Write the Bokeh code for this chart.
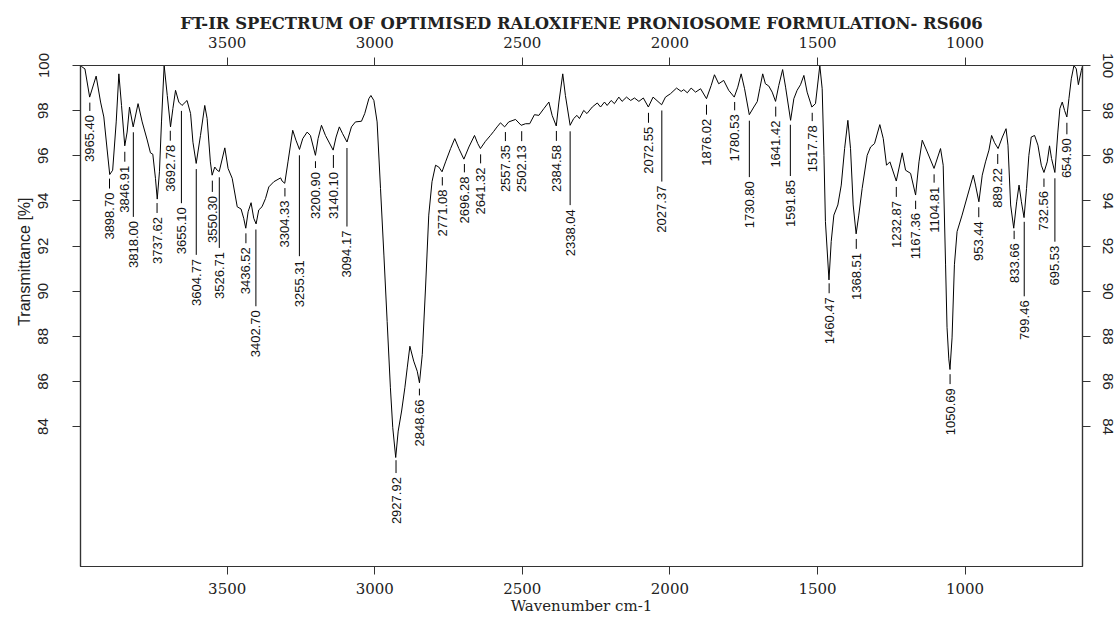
import numpy as np
from bokeh.plotting import figure
from bokeh.models import Range1d, LinearAxis, FixedTicker, ColumnDataSource, Title
from bokeh.embed import file_html
from bokeh.resources import INLINE
from bokeh.core.properties import value

# ---------------- data ----------------
wavenumber = [
    3996, 3993, 3982, 3966, 3944, 3929, 3918, 3907, 3898, 3888, 3876, 3867, 3858, 3847, 3839, 3831,
    3818.5, 3802, 3788, 3771, 3760, 3752, 3743, 3737, 3729.5, 3722.6, 3713.6, 3703, 3692, 3684, 3675,
    3664, 3653, 3636, 3624, 3616, 3605, 3590.5, 3576, 3568, 3557, 3551, 3542, 3534, 3527, 3508, 3497,
    3483, 3466, 3453, 3444, 3437, 3429, 3419, 3410, 3402, 3393, 3382, 3370, 3359, 3342, 3319, 3314,
    3305, 3294, 3278, 3267, 3255, 3244, 3229, 3218, 3201, 3192, 3180.5, 3167, 3141, 3131, 3120, 3109,
    3094, 3079, 3065.5, 3045, 3034, 3020, 3013, 3003, 2992, 2980.5, 2969, 2958, 2947, 2939, 2929,
    2920.6, 2909, 2898, 2890, 2881, 2868, 2856, 2848.5, 2839, 2828, 2817, 2806, 2794, 2783, 2772,
    2760, 2743, 2729, 2715, 2698, 2681, 2662, 2651, 2642, 2625, 2608, 2597, 2585.5, 2574, 2560, 2546,
    2523, 2504, 2489, 2475, 2459, 2444, 2427, 2410, 2399, 2385, 2376, 2363, 2354, 2338, 2326, 2315,
    2306.5, 2292, 2281, 2263, 2246, 2235, 2221.6, 2212.6, 2199, 2188, 2173, 2162, 2147, 2133, 2120,
    2105, 2090, 2073, 2057, 2028, 2015, 1998, 1977.5, 1961.6, 1953, 1941, 1928, 1913, 1896, 1876,
    1860, 1849, 1834.6, 1817.7, 1800.7, 1782, 1770, 1758.5, 1747, 1731, 1715.6, 1704, 1695.6, 1685.5,
    1676.4, 1665, 1653.4, 1642, 1631, 1618, 1608, 1591, 1580, 1569, 1557.4, 1546, 1535, 1519, 1506.7,
    1492, 1484, 1478, 1473, 1461, 1453.4, 1444.4, 1431, 1419.4, 1408, 1397, 1388, 1379, 1369, 1360,
    1348.6, 1331.6, 1320, 1306.7, 1288.7, 1277, 1266, 1254.6, 1233, 1212.8, 1201.5, 1184.5, 1167.5,
    1156, 1145, 1128, 1105, 1083, 1074, 1066, 1061, 1055, 1051, 1044, 1036, 1027, 1010, 991, 972,
    964.5, 953, 941.7, 930.5, 919, 910, 900, 888, 873.4, 861, 854.5, 845.5, 835, 825, 817, 809, 800,
    791.6, 783.7, 775.6, 764.4, 753, 741.6, 732.6, 721.5, 713.7, 706.9, 695.6, 685.5, 678.7, 670.6,
    662.8, 655, 648, 640, 631, 623, 616, 606, 601,
]
transmittance = [
    100.0, 99.95, 99.85, 98.6, 99.53, 98.38, 97.72, 96.3, 95.17, 95.36, 97.5, 99.63, 98.23, 96.44, 97.05, 98.16,
    97.28, 98.31, 97.5, 96.7, 96.13, 96.07, 95.0, 94.08, 95.29, 97.5, 100.0, 98.67, 97.28, 98.09, 98.9,
    98.38, 98.23, 98.45, 97.87, 96.6, 95.66, 96.9, 98.23, 97.65, 95.73, 95.14, 95.5, 95.36, 95.3, 96.35, 95.44,
    95.0, 93.74, 93.64, 93.23, 92.79, 93.52, 93.92, 93.23, 92.98, 93.6, 93.74, 94.11, 94.62, 94.85, 95.02, 94.88,
    94.78, 95.73, 97.13, 96.69, 96.28, 96.76, 97.05, 96.9, 96.02, 96.76, 97.35, 96.9, 96.25, 96.83, 97.28, 96.98,
    96.61, 97.28, 97.5, 97.53, 97.87, 98.53, 98.67, 98.45, 97.5, 94.55, 91.6, 88.66, 85.72, 83.95, 82.63,
    83.8, 84.69, 85.72, 86.6, 87.56, 86.9, 86.45, 85.94, 87.19, 90.14, 93.37, 94.85, 95.58, 95.5, 95.29,
    95.73, 96.32, 96.76, 96.32, 95.85, 96.39, 96.9, 96.54, 96.32, 96.64, 96.9, 97.08, 97.28, 97.46, 97.28, 97.5,
    97.61, 97.35, 97.42, 97.42, 97.82, 97.79, 98.09, 98.38, 97.79, 97.32, 98.38, 99.63, 98.67, 97.35, 97.65, 97.79,
    97.65, 98.01, 97.87, 98.16, 98.34, 98.16, 98.38, 98.23, 98.45, 98.31, 98.6, 98.41, 98.6, 98.45, 98.56,
    98.41, 98.56, 98.16, 98.6, 98.26, 98.6, 98.75, 99.0, 98.85, 98.93, 98.79, 99.0, 98.82, 98.97, 98.53,
    99.12, 99.59, 99.19, 99.34, 98.9, 98.6, 99.04, 99.63, 98.97, 97.82, 98.16, 98.4, 98.97, 99.63,
    99.19, 99.09, 98.82, 98.41, 99.12, 99.82, 99.04, 97.57, 98.53, 98.9, 99.15, 99.56, 98.82, 98.16, 98.31,
    100.0, 98.97, 96.02, 93.08, 90.5, 92.2, 93.37, 93.82, 94.7, 96.32, 97.57, 96.32, 93.82, 92.54, 93.37,
    94.55, 96.02, 96.39, 96.54, 97.38, 96.76, 95.58, 95.73, 94.88, 96.13, 95.36, 95.22, 94.26,
    95.73, 96.69, 96.17, 95.44, 96.32, 95.58, 91.2, 88.4, 87.0, 86.53, 87.93, 91.17, 92.64, 93.37, 94.26, 95.14,
    94.7, 93.96, 95.14, 95.73, 96.25, 96.9, 96.58, 96.32, 96.83, 97.2, 96.47, 93.82, 92.79, 93.96, 94.7, 93.96, 93.26,
    94.55, 96.02, 96.83, 96.9, 96.47, 95.58, 95.26, 95.73, 96.44, 95.88, 95.26, 97.05, 98.09, 98.38,
    98.01, 97.72, 98.53, 99.41, 100.0, 99.85, 99.15, 99.78, 100.0,
]

peak_labels = [
    "3965.40", "3898.70", "3846.91", "3818.00", "3737.62", "3692.78", "3655.10", "3604.77",
    "3550.30", "3526.71", "3436.52", "3402.70", "3304.33", "3255.31", "3200.90", "3140.10",
    "3094.17", "2927.92", "2848.66", "2771.08", "2696.28", "2641.32", "2557.35", "2502.13",
    "2384.58", "2338.04", "2072.55", "2027.37", "1876.02", "1780.53", "1730.80", "1641.42",
    "1591.85", "1517.78", "1460.47", "1368.51", "1232.87", "1167.36", "1104.81", "1050.69",
    "953.44", "889.22", "833.66", "799.46", "732.56", "695.53", "654.90",
]
# leader-line length below each peak, in % transmittance
peak_leader = [
    0.37, 0.44, 0.44, 3.75, 0.44, 0.44, 4.09, 3.8,
    0.5, 3.13, 0.44, 3.4, 0.37, 4.47, 0.3, 0.57,
    3.48, 0.57, 0.3, 0.37, 0.37, 0.4, 0.4, 0.44,
    0.44, 3.27, 0.44, 3.15, 0.44, 0.37, 2.5, 0.44,
    2.27, 0.37, 0.44, 0.44, 0.44, 0.37, 0.37, 0.44,
    0.44, 0.44, 0.37, 3.3, 0.37, 2.81, 0.51,
]

x_ticks = [3500, 3000, 2500, 2000, 1500, 1000]
y_ticks = [84, 86, 88, 90, 92, 94, 96, 98, 100]

title_text = "FT-IR SPECTRUM OF OPTIMISED RALOXIFENE PRONIOSOME FORMULATION- RS606"
x_title = "Wavenumber cm-1"
y_title = "Transmittance [%]"

# ---------------- derived label geometry ----------------
cw = np.array(wavenumber, dtype=float)
ct = np.array(transmittance, dtype=float)
order = np.argsort(cw)
peak_wn = np.array([float(s) for s in peak_labels])
peak_T = np.interp(peak_wn, cw[order], ct[order])
gap, tgap = 0.27, 0.18
lead_top = peak_T - gap
lead_bot = lead_top - np.array(peak_leader)
text_y = lead_bot - tgap

# ---------------- figure ----------------
p = figure(
    width=1120, height=617,
    x_range=Range1d(3997, 602), y_range=Range1d(77.8, 100),
    output_backend="svg", toolbar_location=None,
    min_border_left=80, min_border_right=38, min_border_top=65, min_border_bottom=50,
    background_fill_color="white", border_fill_color="white",
)
p.grid.visible = False
p.outline_line_color = "#333333"
p.outline_line_width = 1.2

p.title.text = title_text
p.title.align = "center"
p.title.text_font = "DejaVu Serif"
p.title.text_font_style = "bold"
p.title.text_font_size = "16.4px"
p.title.text_color = "#222222"
p.title.standoff = 2

bottom_axis = p.below[0]
left_axis = p.left[0]
bottom_axis.ticker = FixedTicker(ticks=x_ticks)
left_axis.ticker = FixedTicker(ticks=y_ticks)
bottom_axis.axis_label = x_title

top_axis = LinearAxis(ticker=FixedTicker(ticks=x_ticks))
right_axis = LinearAxis(ticker=FixedTicker(ticks=y_ticks))
p.add_layout(top_axis, "above")
p.add_layout(right_axis, "right")

for ax in [bottom_axis, top_axis]:
    ax.major_label_text_font = "DejaVu Serif"
    ax.major_label_text_font_size = "15px"
for ax in [left_axis, right_axis]:
    ax.major_label_text_font = "Liberation Sans"
    ax.major_label_text_font_size = "15px"
    ax.major_label_orientation = "vertical"

for ax in [bottom_axis, top_axis, left_axis, right_axis]:
    ax.major_tick_out = 8
    ax.major_tick_in = 0
    ax.minor_tick_out = 0
    ax.minor_tick_in = 0
    ax.axis_line_color = "#333333"
    ax.axis_line_width = 1.2
    ax.major_tick_line_color = "#333333"
    ax.major_label_text_color = "#222222"

left_axis.major_label_standoff = 24
right_axis.major_label_standoff = 12
top_axis.major_label_standoff = 10

bottom_axis.major_label_standoff = 8
bottom_axis.axis_label_standoff = 0
bottom_axis.axis_label_text_font = "DejaVu Serif"
bottom_axis.axis_label_text_font_size = "15px"
bottom_axis.axis_label_text_font_style = "normal"
bottom_axis.axis_label_text_color = "#222222"

# y-axis title in the left panel, its end placed ~132 px below the frame top as in the original
y_title_obj = Title(
    text=y_title, align="right", offset=132, standoff=4, vertical_align="middle",
    text_font="Liberation Sans", text_font_size="16px", text_font_style="normal",
    text_color="#222222",
)
p.add_layout(y_title_obj, "left")

# spectrum
p.line(wavenumber, transmittance, line_color="black", line_width=1)

# peak leaders and labels
src = ColumnDataSource(dict(x=peak_wn, y0=lead_top, y1=lead_bot, ty=text_y, label=peak_labels))
p.segment(x0="x", y0="y0", x1="x", y1="y1", source=src, line_color="black", line_width=1)
p.text(x="x", y="ty", text="label", source=src, angle=np.pi / 2,
       text_align="right", text_baseline="middle",
       text_font=value("Liberation Sans"), text_font_size="13px", text_color="#111111")

open("out.html", "w").write(file_html(p, INLINE))
